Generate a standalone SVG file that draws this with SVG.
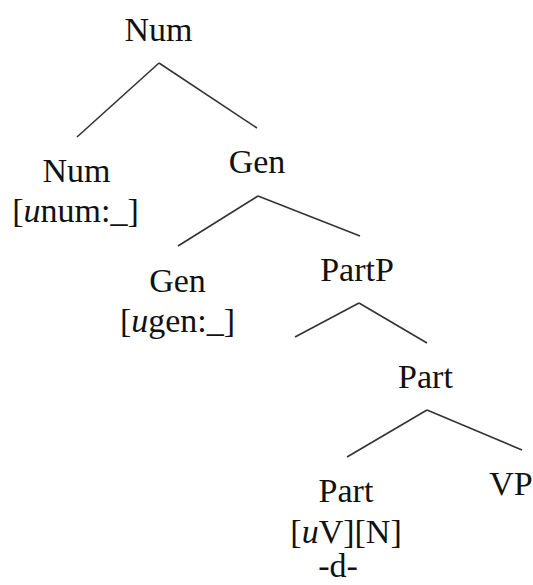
<svg xmlns="http://www.w3.org/2000/svg" width="533" height="585" viewBox="0 0 533 585">
<style>
text{font-family:"Liberation Serif","Times New Roman",serif;font-size:34px;fill:#111;text-anchor:middle}
.i{font-style:italic}
.edge{stroke:#333;stroke-width:1.6;fill:none}
</style>
<rect width="533" height="585" fill="#fff"/>
<g id="connectors">
<line class="edge" x1="159" y1="63" x2="77" y2="137"/>
<line class="edge" x1="159" y1="63" x2="257" y2="128"/>
<line class="edge" x1="258" y1="196" x2="178" y2="246"/>
<line class="edge" x1="258" y1="196" x2="360" y2="236"/>
<line class="edge" x1="359" y1="303" x2="295" y2="337"/>
<line class="edge" x1="359" y1="303" x2="427" y2="343"/>
<line class="edge" x1="427" y1="410" x2="347" y2="457"/>
<line class="edge" x1="427" y1="410" x2="522" y2="450"/>
</g>
<g id="num-top"><text x="158.5" y="41">Num</text></g>
<g id="num-head"><text x="76.5" y="182">Num</text><text x="75.5" y="222">[<tspan class="i">u</tspan>num:_]</text></g>
<g id="gen-phrase"><text x="257" y="173">Gen</text></g>
<g id="gen-head"><text x="177.5" y="292">Gen</text><text x="177.5" y="332">[<tspan class="i">u</tspan>gen:_]</text></g>
<g id="partp"><text x="357" y="281">PartP</text></g>
<g id="part-bar"><text x="425.5" y="388">Part</text></g>
<g id="part-head"><text x="346" y="502">Part</text><text x="346" y="543">[<tspan class="i">u</tspan>V][N]</text><text x="338" y="577">-d-</text></g>
<g id="vp"><text x="511" y="495">VP</text></g>
</svg>
